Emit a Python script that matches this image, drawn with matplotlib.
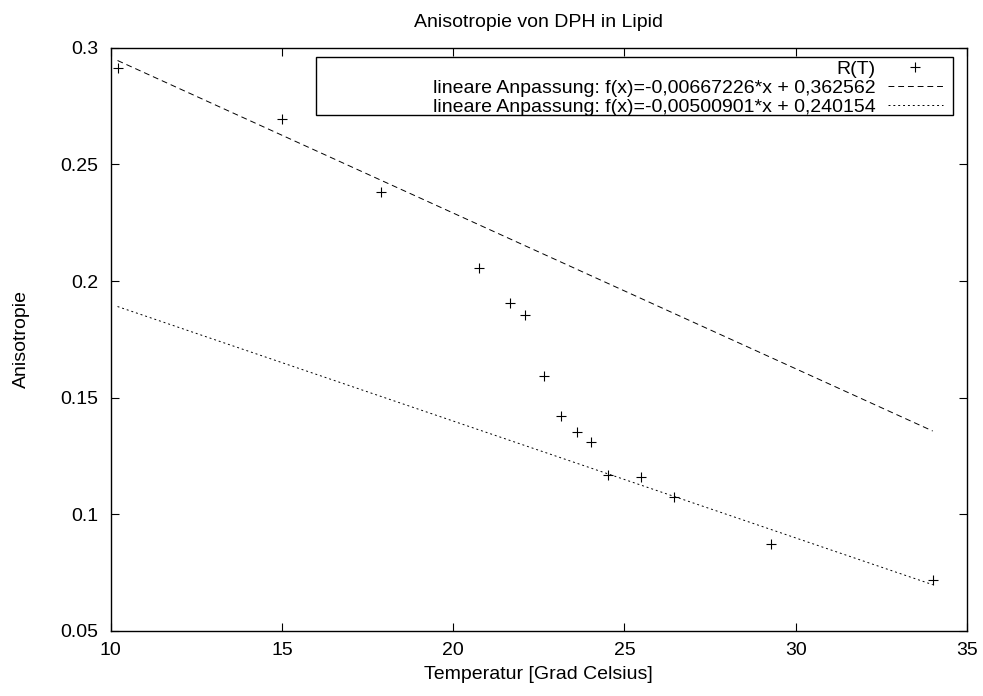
import matplotlib
matplotlib.use("Agg")
import numpy as np
import matplotlib.pyplot as plt
from matplotlib.patches import Rectangle

# measured anisotropy vs temperature
temp = [10.2, 15.0, 17.9, 20.75, 21.67, 22.11, 22.64, 23.14, 23.62, 24.02,
        24.53, 25.48, 26.45, 29.29, 34.0]
aniso = [0.2914, 0.2693, 0.2383, 0.2057, 0.1904, 0.1856, 0.1592, 0.1421,
         0.1351, 0.1311, 0.1167, 0.1159, 0.1073, 0.0873, 0.0718]

# linear fits (slope, intercept)
fit1 = (-0.00667226, 0.362562)
fit2 = (-0.00500901, 0.240154)

plt.rcParams['font.family'] = ['Liberation Sans', 'DejaVu Sans']
plt.rcParams['font.size'] = 14

fig = plt.figure(figsize=(9.83, 6.96), dpi=100)
ax = fig.add_axes([0.1126, 0.0934, 0.8711, 0.8381])

ax.plot(temp, aniso, linestyle='none', marker='+', color='black',
        markersize=7, markeredgewidth=0.8, label='R(T)')

xs = np.linspace(min(temp), max(temp), 100)
ax.plot(xs, fit1[0] * xs + fit1[1], color='black', lw=0.7,
        dashes=(6, 4), label='lineare Anpassung: f(x)=-0,00667226*x + 0,362562')
ax.plot(xs, fit2[0] * xs + fit2[1], color='black', lw=0.7,
        dashes=(2, 3), label='lineare Anpassung: f(x)=-0,00500901*x + 0,240154')

ax.set_xlim(10, 35)
ax.set_ylim(0.05, 0.3)
ax.set_xticks([10, 15, 20, 25, 30, 35])
ax.set_yticks([0.05, 0.1, 0.15, 0.2, 0.25, 0.3])
ax.set_yticklabels(['0.05', '0.1', '0.15', '0.2', '0.25', '0.3'])
ax.tick_params(direction='in', top=True, right=True, length=6, width=0.8,
               labelsize=14)
ax.tick_params(axis='y', pad=9)
ax.tick_params(axis='x', pad=8)
for s in ax.spines.values():
    s.set_linewidth(1.0)

ax.set_title('Anisotropie von DPH in Lipid', fontsize=14, pad=15)
ax.set_xlabel('Temperatur [Grad Celsius]', fontsize=14, labelpad=5)
ax.set_ylabel('Anisotropie', fontsize=14, labelpad=22)

# gnuplot-style key: text right aligned, sample to the right, framed box
ax.add_patch(Rectangle((0.2398, 0.8846), 0.7439, 0.1, transform=ax.transAxes,
                       fill=False, lw=1.0, edgecolor='black', zorder=3))
leg = ax.legend(loc='upper right', bbox_to_anchor=(0.972, 0.978),
                frameon=False, markerfirst=False, borderpad=0,
                borderaxespad=0, handlelength=2.85, handletextpad=0.6,
                labelspacing=0.06, fontsize=14)

fig.savefig('out.png', dpi=100)
